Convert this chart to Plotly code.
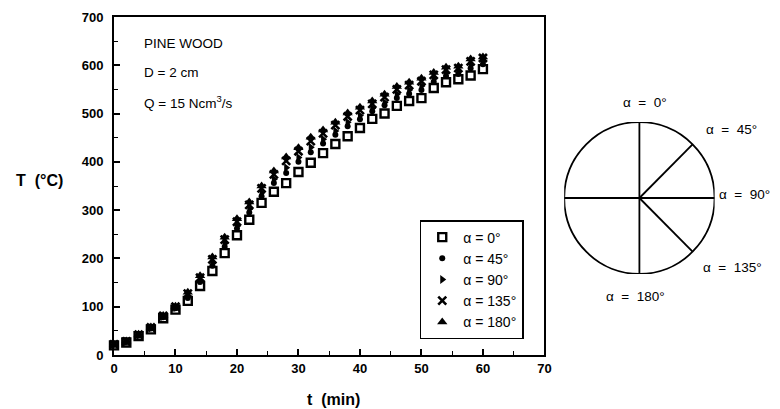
import plotly.graph_objects as go
import numpy as np

# ---------------- data ----------------
t_min = [0, 2, 4, 6, 8, 10, 12, 14, 16, 18, 20, 22, 24, 26, 28, 30,
         32, 34, 36, 38, 40, 42, 44, 46, 48, 50, 52, 54, 56, 58, 60]

T_a0 = [20, 26, 39, 53, 76, 94, 112, 143, 174, 211, 248, 280, 315, 338, 356, 379,
        398, 418, 437, 453, 470, 489, 500, 516, 526, 532, 553, 565, 571, 579, 592]
T_a45 = [21, 27, 40, 55, 78, 97, 118, 151, 185, 224, 262, 295, 329, 356, 377, 400,
         420, 438, 456, 474, 488, 505, 517, 532, 541, 549, 566, 578, 582, 594, 602]
T_a90 = [21, 28, 41, 56, 80, 98, 122, 155, 190, 231, 267, 302, 336, 364, 388, 409,
         430, 447, 464, 482, 496, 511, 523, 540, 549, 557, 572, 584, 587, 600, 608]
T_a135 = [22, 28, 42, 57, 81, 100, 127, 160, 198, 239, 276, 311, 345, 374, 402, 422,
          443, 459, 476, 494, 507, 520, 534, 550, 559, 567, 580, 591, 594, 608, 615]
T_a180 = [22, 29, 43, 58, 82, 101, 130, 164, 203, 244, 282, 317, 350, 381, 410, 429,
          451, 466, 482, 501, 513, 526, 540, 556, 565, 573, 585, 596, 598, 613, 617]

series_names = ["α = 0°", "α = 45°", "α = 90°", "α = 135°", "α = 180°"]
series_values = [T_a0, T_a45, T_a90, T_a135, T_a180]

x_ticks = [0, 10, 20, 30, 40, 50, 60, 70]
y_ticks = [0, 100, 200, 300, 400, 500, 600, 700]

diagram_angles = [45, 135]          # radii drawn in the sketch (deg from vertical)
diagram_labels = ["α\u00a0\u00a0=\u00a0\u00a00°", "α\u00a0\u00a0=\u00a0\u00a045°",
                  "α\u00a0\u00a0=\u00a0\u00a090°", "α\u00a0\u00a0=\u00a0\u00a0135°",
                  "α\u00a0\u00a0=\u00a0\u00a0180°"]

# ---------------- styles ----------------
marker_styles = [
    dict(symbol="square-open", size=8, line=dict(width=2.4, color="black")),
    dict(symbol="circle", size=6, line=dict(width=0)),
    dict(symbol="triangle-right", size=8, line=dict(width=0)),
    dict(symbol="x-thin-open", size=8, line=dict(width=2.6, color="black")),
    dict(symbol="triangle-up", size=9, line=dict(width=0)),
]

FONT = "Liberation Sans, Arial, sans-serif"

fig = go.Figure()
for i, (name, vals, ms) in enumerate(zip(series_names, series_values, marker_styles)):
    fig.add_trace(go.Scatter(
        x=t_min, y=vals, mode="markers", name=name,
        marker=dict(color="black", **ms),
        cliponaxis=False, legendgroup=f"g{i}",
        xaxis="x", yaxis="y",
    ))

# ---------------- layout geometry ----------------
W, H = 780, 409
ml, mr, mt, mb = 114, 2, 17, 54
pw = W - ml - mr
ph = H - mt - mb
main_right = 549
main_dom = [0, (main_right - ml) / pw]


def px2paper(px, py):
    return (px - ml) / pw, (H - mb - py) / ph


# circle sketch (pixel centre / radius)
cx, cy, cr = 645, 198, 76
x2_dom = [(cx - cr - ml) / pw, (cx + cr - ml) / pw]
y2_dom = [(H - mb - (cy + cr)) / ph, (H - mb - (cy - cr)) / ph]

axis_common = dict(
    showline=True, linecolor="black", linewidth=2, mirror=True,
    ticks="inside", ticklen=6, tickwidth=1.5, tickcolor="black",
    showgrid=False, zeroline=False,
    tickfont=dict(family=FONT, size=13, color="black", weight="bold"),
)

lx0, ly0 = px2paper(423, 220)
fig.update_layout(
    width=W, height=H,
    margin=dict(l=ml, r=mr, t=mt, b=mb, pad=0),
    plot_bgcolor="white", paper_bgcolor="white",
    showlegend=True,
    xaxis=dict(domain=main_dom, range=[0, 70], tickvals=x_ticks,
               minor=dict(ticks="inside", dtick=5, ticklen=4, tickcolor="black", tickwidth=1.2),
               **axis_common),
    yaxis=dict(domain=[0, 1], range=[0, 700], tickvals=y_ticks, ticklabelstandoff=6,
               minor=dict(ticks="inside", dtick=50, ticklen=4, tickcolor="black", tickwidth=1.2),
               **axis_common),
    xaxis2=dict(domain=x2_dom, range=[-1, 1], visible=False, anchor="y2"),
    yaxis2=dict(domain=y2_dom, range=[-1, 1], visible=False, anchor="x2"),
    legend=dict(
        x=lx0, y=ly0, xanchor="left", yanchor="top",
        bordercolor="black", borderwidth=1.5, bgcolor="white",
        font=dict(family=FONT, size=14, color="black"),
        tracegroupgap=0, itemwidth=32,
    ),
    font=dict(family=FONT, color="black"),
)

# axis titles (horizontal y title as in the reference)
ax_, ay_ = px2paper(336, 399)
fig.add_annotation(text="<b>t\u00a0\u00a0(min)</b>", xref="paper", yref="paper",
                   x=ax_, y=ay_, xanchor="center", yanchor="middle", showarrow=False,
                   font=dict(family=FONT, size=16))
ax_, ay_ = px2paper(39, 180)
fig.add_annotation(text="<b>T\u00a0\u00a0(°C)</b>", xref="paper", yref="paper",
                   x=ax_, y=ay_, xanchor="center", yanchor="middle", showarrow=False,
                   font=dict(family=FONT, size=16))

# text block in plot
info = ["PINE WOOD", "D = 2 cm", "Q = 15 Ncm<sup>3</sup>/s"]
info_py = [44, 72, 102]
for txt, py in zip(info, info_py):
    ix, iy = px2paper(142, py)
    fig.add_annotation(text=txt, xref="paper", yref="paper",
                       x=ix, y=iy, xanchor="left", yanchor="middle", showarrow=False,
                       font=dict(family=FONT, size=13.5))

# circle sketch
line_st = dict(color="black", width=1.8)
fig.add_shape(type="circle", xref="x2", yref="y2", x0=-1, y0=-1, x1=1, y1=1, line=line_st)
fig.add_shape(type="line", xref="x2", yref="y2", x0=0, y0=-1, x1=0, y1=1, line=line_st)
fig.add_shape(type="line", xref="x2", yref="y2", x0=-1, y0=0, x1=1, y1=0, line=line_st)
for a in diagram_angles:
    r = np.deg2rad(a)
    fig.add_shape(type="line", xref="x2", yref="y2", x0=0, y0=0,
                  x1=float(np.sin(r)), y1=float(np.cos(r)), line=line_st)

# label offsets in circle radii (dx right, dy up)
label_off = [(0.08, 1.25), (1.22, 0.90), (1.40, 0.04), (1.24, -0.92), (-0.05, -1.30)]
for txt, (ox, oy) in zip(diagram_labels, label_off):
    px_, py_ = px2paper(cx + ox * cr, cy - oy * cr)
    fig.add_annotation(text=txt, xref="paper", yref="paper", x=px_, y=py_,
                       xanchor="center", yanchor="middle",
                       showarrow=False, font=dict(family=FONT, size=13.5))

fig.write_html("out.html")
